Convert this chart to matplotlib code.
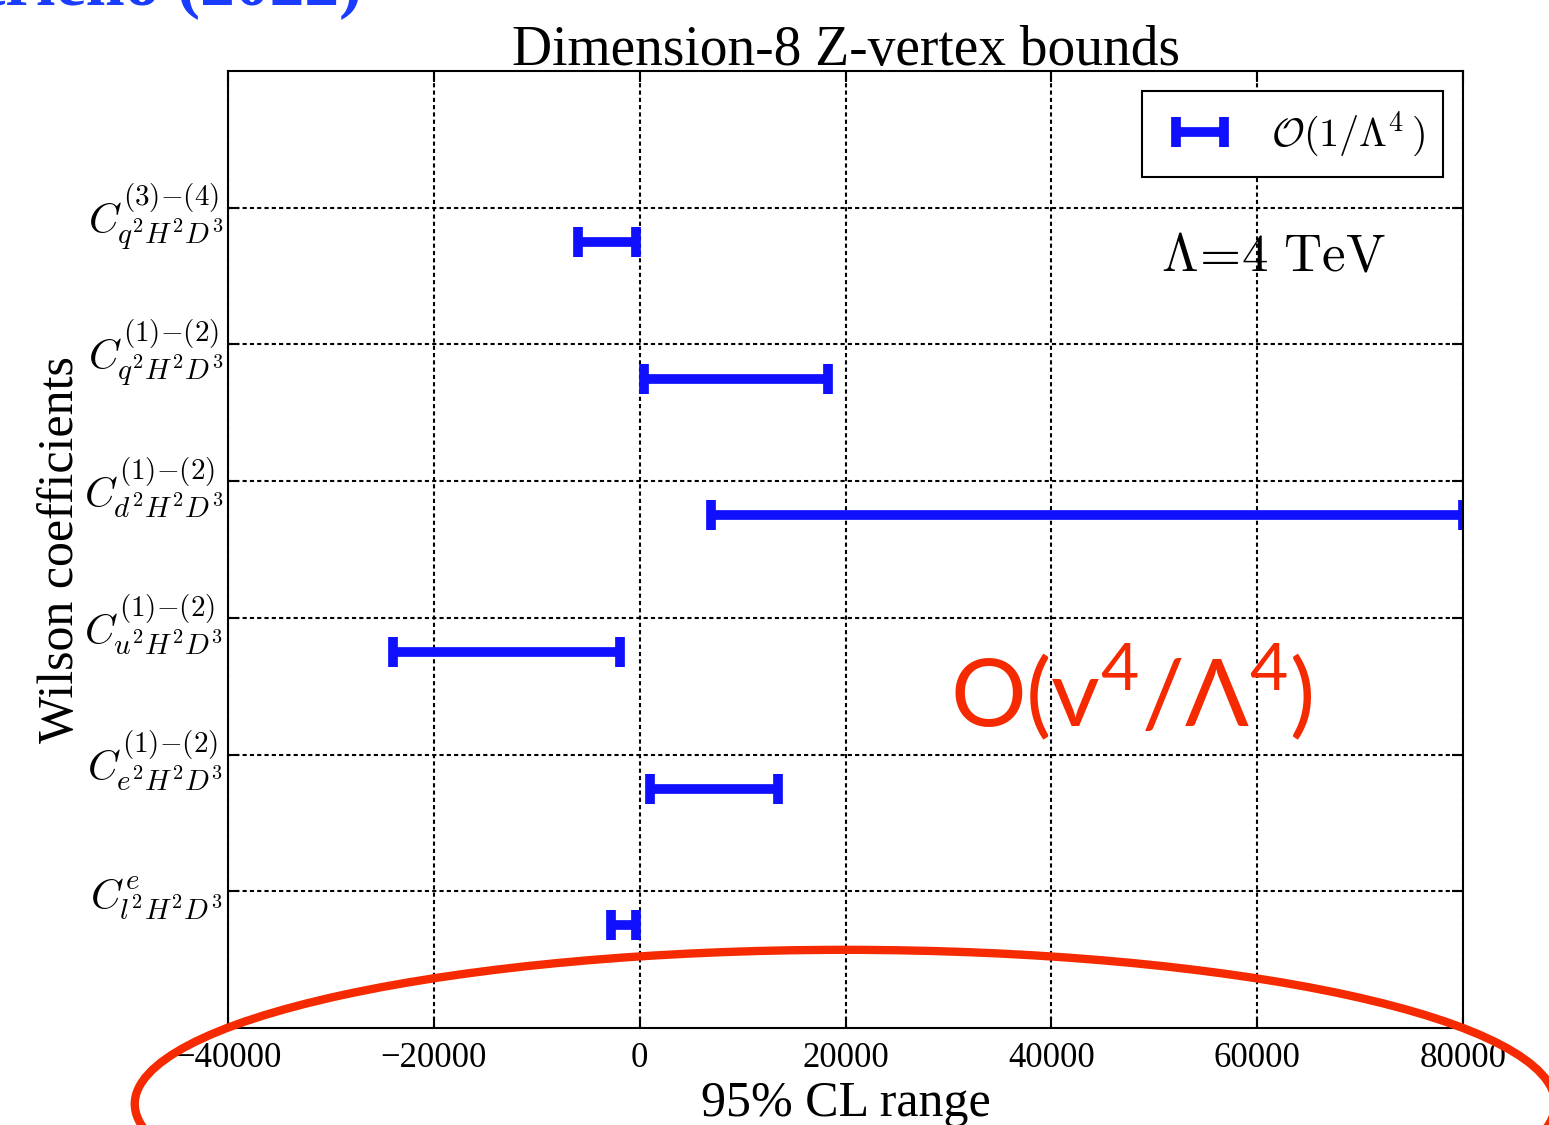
import numpy as np
import matplotlib
matplotlib.use('Agg')
import matplotlib.pyplot as plt
from matplotlib.patches import Ellipse
from matplotlib.legend_handler import HandlerErrorbar
from matplotlib.container import ErrorbarContainer

plt.rcParams['font.family'] = ['Liberation Serif', 'DejaVu Serif']
plt.rcParams['mathtext.fontset'] = 'cm'
plt.rcParams['mathtext.rm'] = 'Lato'

# operators, bottom to top
labels = [r'$C^{e}_{l^2H^2D^3}$',
          r'$C^{(1){-}(2)}_{e^2H^2D^3}$',
          r'$C^{(1){-}(2)}_{u^2H^2D^3}$',
          r'$C^{(1){-}(2)}_{d^2H^2D^3}$',
          r'$C^{(1){-}(2)}_{q^2H^2D^3}$',
          r'$C^{(3){-}(4)}_{q^2H^2D^3}$']
lower = np.array([-2800, 1000, -24000, 6900, 400, -6000])
upper = np.array([-400, 13400, -1900, 80000, 18300, -400])

fig = plt.figure(figsize=(15.49, 11.25), dpi=100)
ax = fig.add_axes([0.1472, 0.0862, 0.7973, 0.8507])

pos = np.arange(1, len(labels) + 1)
center = (lower + upper) / 2
half = (upper - lower) / 2
ax.errorbar(center, pos - 0.25, xerr=half, fmt='none', ecolor='#1010ff',
            elinewidth=7, capsize=11, capthick=7, label=r'$\mathcal{O}(1/\Lambda^4\,)$')

ax.set_xlim(-40000, 80000)
ax.set_ylim(0, 7)
ax.set_xticks(np.arange(-40000, 80001, 20000))
ax.set_yticks(pos)
ax.set_yticklabels(labels, fontsize=30)
ax.tick_params(axis='x', labelsize=25, pad=10)
ax.tick_params(direction='in', top=True, right=True, length=8, width=1.5)
for s in ax.spines.values():
    s.set_linewidth(1.5)
ax.grid(True, color='black', linestyle=(0, (2, 1.5)), linewidth=1.5)

ax.set_title('Dimension-8 Z-vertex bounds', fontsize=40, pad=4)
ax.set_xlabel('95% CL range', fontsize=36, labelpad=4)
ax.set_ylabel('Wilson coefficients', fontsize=36, labelpad=0)

leg = ax.legend(loc='upper right', fontsize=29, fancybox=False, framealpha=1,
                edgecolor='black', borderpad=0.45, handlelength=2.0,
                handletextpad=0.75, borderaxespad=0.5,
                handler_map={ErrorbarContainer: HandlerErrorbar(xerr_size=0.6)})
leg.get_frame().set_linewidth(1.5)

ax.text(0.937, 0.805, r'$\Lambda\!=\!4\ \mathrm{TeV}$', transform=ax.transAxes,
        ha='right', va='center', fontsize=38)

fig.text(0.613, 0.385, r'O(v$^4$/Λ$^4$)', color='#f52a00', fontsize=68,
         family=['Lato', 'DejaVu Sans'], math_fontfamily='custom', va='center')

fig.text(0.234, 0.9955, 'Boughezal, Huang, Petriello (2022)', color='#1a3cff',
         fontsize=50, weight='bold', ha='right', va='baseline')

fig.add_artist(Ellipse((0.5455, 0.0187), 0.917, 0.274, transform=fig.transFigure,
                       fill=False, edgecolor='#f52a00', linewidth=6, clip_on=False))

fig.savefig('out.png', dpi=100)
